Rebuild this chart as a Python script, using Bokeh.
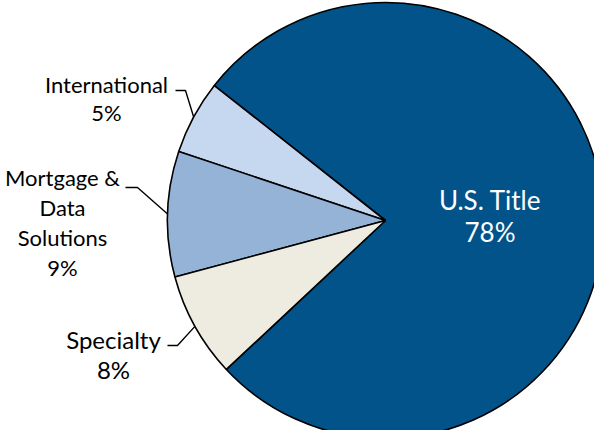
import math
from bokeh.plotting import figure
from bokeh.models import Range1d, ColumnDataSource
from bokeh.core.properties import value
from bokeh.embed import file_html
from bokeh.resources import INLINE

# ---- data ----
categories = ["U.S. Title", "International", "Mortgage & Data Solutions", "Specialty"]
shares = [77.4, 5.5, 9.3, 7.8]
pct_labels = ["78%", "5%", "9%", "8%"]
colors = ["#03538B", "#C6D8EF", "#95B3D7", "#EEECE1"]

# ---- layout (pixel-like data units, y up) ----
W, H = 594, 430
cx, cy, R = 385, 210, 218
start_deg = -136.9

p = figure(width=W, height=H, output_backend="svg", toolbar_location=None,
           x_range=Range1d(0, W), y_range=Range1d(0, H), min_border=0)
p.axis.visible = False
p.grid.visible = False
p.outline_line_color = None
p.background_fill_color = "white"

starts, ends, mids = [], [], []
a = start_deg
for s in shares:
    span = s / 100.0 * 360.0
    starts.append(math.radians(a))
    ends.append(math.radians(a + span))
    mids.append(math.radians(a + span / 2))
    a += span

src = ColumnDataSource(dict(start=starts, end=ends, color=colors))
p.wedge(x=cx, y=cy, radius=R, start_angle="start", end_angle="end",
        fill_color="color", line_color="black", line_width=1.6, source=src)

font = value("Lato")

# U.S. Title label inside the slice
mx = cx + 0.48 * R * math.cos(mids[0])
my = cy + 0.48 * R * math.sin(mids[0])
p.text(x=[mx], y=[my], text=[categories[0] + "\n" + pct_labels[0]],
       text_color="white", text_font=font, text_font_size="26px",
       text_align="center", text_baseline="middle", text_line_height=0.98)

# outside labels
outside = {
    1: dict(lx=106, ly=332, lines=["International"], fs="22px", lh=1.07, ex=185, ey=340, ax=175),
    2: dict(lx=62, ly=208, lines=["Mortgage &", "Data", "Solutions"], fs="22px", lh=1.1, ex=137, ey=243, ax=125),
    3: dict(lx=113, ly=76, lines=["Specialty"], fs="24px", lh=1.03, ex=177, ey=85, ax=167),
}
for i, o in outside.items():
    txt = "\n".join(o["lines"] + [pct_labels[i]])
    p.text(x=[o["lx"]], y=[o["ly"]], text=[txt], text_color="black",
           text_font=font, text_font_size=o["fs"], text_align="center",
           text_baseline="middle", text_line_height=o["lh"])
    px_ = cx + R * math.cos(mids[i])
    py_ = cy + R * math.sin(mids[i])
    p.line(x=[o["ax"], o["ex"], px_], y=[o["ey"], o["ey"], py_],
           line_color="black", line_width=1.4)

open("out.html", "w").write(file_html(p, INLINE))
